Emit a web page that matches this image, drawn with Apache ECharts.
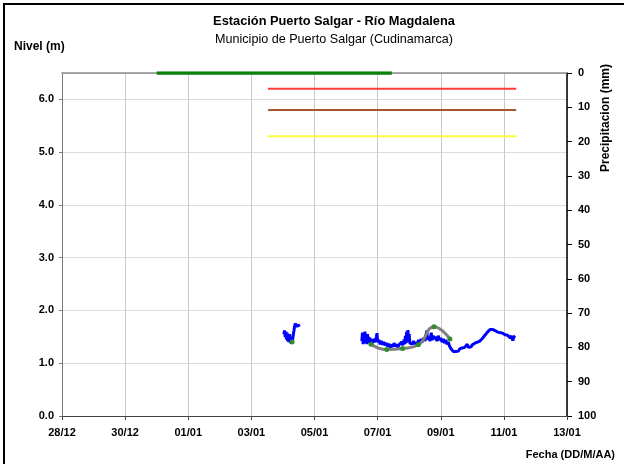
<!DOCTYPE html>
<html>
<head>
<meta charset="utf-8">
<script src="https://cdn.jsdelivr.net/npm/echarts@6/dist/echarts.min.js"></script>
<style>
html,body{margin:0;padding:0;background:#fff;}
#frame{position:absolute;left:0;top:0;width:624px;height:464px;}
#border{position:absolute;left:3px;top:3px;width:640px;height:480px;border-left:2px solid #000;border-top:2px solid #000;box-sizing:border-box;}
#chart{position:absolute;left:0;top:0;width:624px;height:464px;}
</style>
</head>
<body>
<div id="frame"><div id="border"></div><div id="chart"></div></div>
<script>
// x values are days counted from 28/12 00:00
const xTickLabels = ['28/12','30/12','01/01','03/01','05/01','07/01','09/01','11/01','13/01'];
const leftTicks = [0, 1, 2, 3, 4, 5, 6];
const rightTicks = [0,10,20,30,40,50,60,70,80,90,100];

// Nivel automatic sensor (blue), [day, level m]
const nivelA = [[7.03,1.55],[7.05,1.62],[7.07,1.50],[7.09,1.60],[7.11,1.45],[7.13,1.58],[7.15,1.42],[7.17,1.52],[7.19,1.40],[7.21,1.55],[7.23,1.44],[7.25,1.38],[7.27,1.42],[7.29,1.40],[7.31,1.46],[7.33,1.55],[7.35,1.62],[7.37,1.70],[7.39,1.75],[7.41,1.72],[7.43,1.74],[7.45,1.70],[7.47,1.68],[7.49,1.72],[7.51,1.70],[7.54,1.73]];
const nivelB = [[9.50,1.42],[9.52,1.58],[9.54,1.36],[9.56,1.55],[9.58,1.40],[9.60,1.60],[9.62,1.38],[9.64,1.52],[9.66,1.36],[9.68,1.55],[9.70,1.42],[9.72,1.50],[9.74,1.38],[9.76,1.48],[9.78,1.40],[9.80,1.45],
[9.84,1.38],[9.88,1.46],[9.92,1.40],[9.96,1.50],[9.98,1.57],[10.00,1.40],[10.04,1.44],[10.08,1.36],[10.12,1.42],[10.16,1.35],[10.20,1.40],[10.24,1.34],[10.28,1.38],[10.32,1.32],[10.36,1.37],[10.40,1.30],[10.44,1.35],[10.48,1.31],[10.52,1.38],[10.56,1.32],[10.60,1.36],[10.64,1.30],[10.68,1.35],[10.72,1.33],[10.76,1.40],[10.80,1.34],
[10.84,1.45],[10.86,1.36],[10.88,1.52],[10.90,1.38],[10.92,1.60],[10.94,1.40],[10.96,1.63],[10.98,1.42],[11.00,1.55],[11.02,1.38],[11.06,1.40],[11.10,1.36],[11.14,1.42],[11.18,1.37],[11.22,1.40],[11.26,1.38],[11.30,1.44],[11.34,1.40],[11.38,1.46],[11.42,1.40],[11.46,1.48],[11.50,1.42],[11.54,1.56],[11.56,1.62],[11.58,1.45],[11.62,1.50],[11.66,1.42],[11.70,1.58],[11.72,1.44],[11.76,1.52],[11.80,1.46],[11.84,1.50],[11.88,1.42],[11.92,1.52],[11.96,1.44],[12.00,1.48],[12.04,1.40],[12.08,1.46],[12.12,1.38],[12.16,1.44],[12.20,1.36],[12.24,1.40],[12.28,1.32],[12.32,1.28],[12.36,1.25],[12.40,1.22],[12.44,1.19],[12.48,1.22],[12.52,1.25],[12.56,1.23],[12.60,1.27],[12.64,1.25],[12.68,1.29],[12.72,1.27],[12.76,1.30],[12.80,1.28],[12.84,1.36],[12.88,1.30],[12.92,1.33],[12.96,1.31],[13.00,1.35],[13.04,1.33],[13.08,1.38],[13.12,1.36],[13.16,1.40],[13.20,1.38],[13.24,1.42],[13.28,1.43],[13.32,1.47],[13.36,1.50],[13.40,1.53],[13.44,1.56],[13.48,1.59],[13.52,1.62],[13.56,1.64],[13.60,1.65],[13.64,1.64],[13.68,1.63],[13.72,1.62],[13.76,1.60],[13.80,1.59],[13.84,1.57],[13.88,1.58],[13.92,1.56],[13.96,1.57],[14.00,1.55],[14.04,1.54],[14.08,1.52],[14.12,1.53],[14.16,1.50],[14.20,1.48],[14.24,1.52],[14.28,1.43],[14.32,1.50],[14.36,1.52]];

// manual readings (gray line with green dots)
const lecturaA = [[7.29,1.40]];
const lecturaB = [[9.79,1.36],[10.29,1.26],[10.79,1.28],[11.29,1.35],[11.79,1.69],[12.29,1.46]];

// precipitation (mm), right inverted axis
const precipDays = [3.0,4.0,5.0,6.0,7.0,8.0,9.0,10.0,10.45];
const precipMm   = [0,0,0,0,0,0,0,0,0];

// alert thresholds (m)
const umbralDays = [6.53, 14.39];
const umbralRojo = 6.2;
const umbralNaranja = 5.8;
const umbralAmarillo = 5.3;

const FONT = 'Liberation Sans, Arial, sans-serif';
const chart = echarts.init(document.getElementById('chart'), null, {renderer:'canvas'});

function hline(days, v){ return days.map(d => [d, v]); }

const option = {
  backgroundColor: 'transparent',
  animation: false,
  title: [
    {text: 'Estación Puerto Salgar - Río Magdalena', left: 329, top: 10, textAlign: 'center',
     textStyle:{fontFamily:FONT, fontSize:12.8, fontWeight:'bold', color:'#000'}},
    {text: 'Municipio de Puerto Salgar (Cudinamarca)', left: 329, top: 28, textAlign: 'center',
     textStyle:{fontFamily:FONT, fontSize:12.6, fontWeight:'normal', color:'#000'}},
    {text: 'Nivel (m)', left: 9, top: 36,
     textStyle:{fontFamily:FONT, fontSize:12, fontWeight:'bold', color:'#000'}},
    {text: 'Fecha (DD/M/AA)', right: 4, top: 444,
     textStyle:{fontFamily:FONT, fontSize:11, fontWeight:'bold', color:'#000'}}
  ],
  graphic: [
    {type:'text', left: 600, top: 64, rotation: Math.PI/2,
     style:{text:'Precipitacion (mm)', font:'bold 12px ' + FONT, fill:'#000'}}
  ],
  grid: {left: 62, right: 57, top: 73, bottom: 48},
  xAxis: [
    {type:'value', min:0, max:16, interval:2, position:'bottom',
     axisLine:{show:true, onZero:false, lineStyle:{color:'#444', width:1}},
     axisTick:{show:true, length:4, lineStyle:{color:'#444'}},
     axisLabel:{formatter: v => xTickLabels[Math.round(v/2)], fontFamily:FONT, fontSize:11, fontWeight:'bold', color:'#000', margin:11},
     splitLine:{show:true, lineStyle:{color:'#c8c8c8', width:1}}},
    {type:'value', min:0, max:16, position:'top',
     axisLine:{show:true, onZero:false, lineStyle:{color:'#8a8a8a', width:1.5}},
     axisTick:{show:false}, axisLabel:{show:false}, splitLine:{show:false}}
  ],
  yAxis: [
    {type:'value', min:0, max:6.5, interval:1, position:'left',
     axisLine:{show:true, onZero:false, lineStyle:{color:'#777', width:1}},
     axisTick:{show:true, length:3, lineStyle:{color:'#777'}},
     axisLabel:{formatter: v => v.toFixed(1), showMaxLabel:false, fontFamily:FONT, fontSize:11, fontWeight:'bold', color:'#000', margin:8},
     splitLine:{show:true, lineStyle:{color:'#dcdcdc', width:1}}},
    {type:'value', min:0, max:100, interval:10, inverse:true, position:'right',
     axisLine:{show:true, onZero:false, lineStyle:{color:'#000', width:1.5}},
     axisTick:{show:true, length:5, lineStyle:{color:'#000'}},
     axisLabel:{fontFamily:FONT, fontSize:11, fontWeight:'bold', color:'#000', margin:11},
     splitLine:{show:false}}
  ],
  series: [
    {type:'line', xAxisIndex:0, yAxisIndex:1, data: precipDays.map((d,i)=>[d, precipMm[i]]),
     symbol:'none', lineStyle:{color:'#0a800a', width:3.5}, z:5},
    {type:'line', yAxisIndex:0, data: hline(umbralDays, umbralRojo), symbol:'none', lineStyle:{color:'#ff3b3b', width:2}},
    {type:'line', yAxisIndex:0, data: hline(umbralDays, umbralNaranja), symbol:'none', lineStyle:{color:'#a5582a', width:2}},
    {type:'line', yAxisIndex:0, data: hline(umbralDays, umbralAmarillo), symbol:'none', lineStyle:{color:'#ffff3a', width:2}},
    {type:'line', yAxisIndex:0, data: nivelA, symbol:'none', lineStyle:{color:'#0000ff', width:3}, z:3},
    {type:'line', yAxisIndex:0, data: nivelB, symbol:'none', lineStyle:{color:'#0000ff', width:3}, z:3},
    {type:'line', yAxisIndex:0, data: lecturaA, symbol:'circle', symbolSize:5, itemStyle:{color:'#2e8b2e'}, lineStyle:{color:'#808080', width:3}, z:4},
    {type:'line', yAxisIndex:0, data: lecturaB, smooth:true, symbol:'circle', symbolSize:5, itemStyle:{color:'#2e8b2e'}, lineStyle:{color:'#808080', width:3}, z:4}
  ]
};
chart.setOption(option);
</script>
</body>
</html>
